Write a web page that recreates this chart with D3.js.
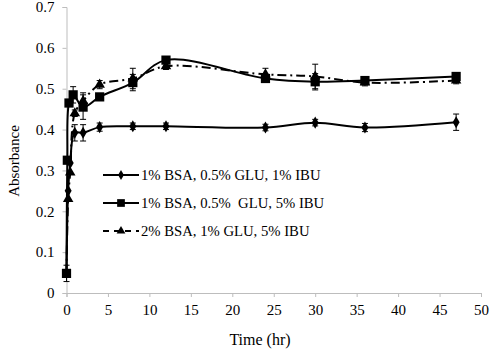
<!DOCTYPE html>
<html><head><meta charset="utf-8">
<script src="https://cdn.jsdelivr.net/npm/d3@7/dist/d3.min.js"></script>
<style>body{margin:0;background:#fff}svg{display:block;font-family:"Liberation Serif","Times New Roman",serif}</style>
</head><body><svg id="c" width="500" height="353"></svg>
<script>
const xTicks = [0,5,10,15,20,25,30,35,40,45,50];
const yTicks = [0,0.1,0.2,0.3,0.4,0.5,0.6,0.7];
const seriesNames = ["1% BSA, 0.5% GLU, 1% IBU","1% BSA, 0.5%  GLU, 5% IBU","2% BSA, 1% GLU, 5% IBU"];
const time1 = [0, 0.2, 0.45, 1, 2, 4, 8, 12, 24, 30, 36, 47];
const vals1 = [0.048, 0.25, 0.318, 0.392, 0.392, 0.406, 0.408, 0.408, 0.405, 0.417, 0.405, 0.418];
const err1  = [0, 0.006, 0.006, 0.02, 0.02, 0.01, 0.008, 0.008, 0.008, 0.008, 0.01, 0.02];
const time2 = [0, 0.1, 0.3, 0.8, 2, 4, 8, 12, 24, 30, 36, 47];
const vals2 = [0.048, 0.325, 0.465, 0.485, 0.455, 0.48, 0.515, 0.57, 0.525, 0.517, 0.52, 0.53];
const err2  = [0.02, 0.006, 0.006, 0.02, 0.03, 0.008, 0.02, 0.008, 0.008, 0.02, 0.008, 0.008];
const time3 = [0, 0.2, 0.45, 1, 2, 4, 8, 12, 24, 30, 36, 47];
const vals3 = [0.048, 0.23, 0.295, 0.44, 0.47, 0.51, 0.525, 0.555, 0.535, 0.53, 0.515, 0.52];
const err3  = [0, 0.006, 0.006, 0.008, 0.02, 0.01, 0.025, 0.008, 0.015, 0.03, 0.008, 0.008];

const svg = d3.select("#c");
const x = d3.scaleLinear().domain([0,50]).range([66.5,481]);
const y = d3.scaleLinear().domain([0,0.7]).range([293,7]);
const axisCol = "#bdbdbd";

const gx = svg.append("g").attr("transform","translate(0,293)")
  .call(d3.axisBottom(x).tickValues(xTicks).tickSize(4).tickPadding(7).tickFormat(d3.format("d")));
const gy = svg.append("g").attr("transform","translate(66.5,0)")
  .call(d3.axisLeft(y).tickValues(yTicks).tickSize(4).tickPadding(8).tickFormat(d=>d===0?"0":d3.format(".1f")(d)));
[gx,gy].forEach(g=>{
  g.attr("font-family","Liberation Serif").attr("font-size",15);
  g.select(".domain").attr("stroke",axisCol);
  g.selectAll(".tick line").attr("stroke",axisCol);
  g.selectAll("text").attr("fill","#000");
});

svg.append("text").attr("x",260).attr("y",345).attr("text-anchor","middle").attr("font-size",16).text("Time (hr)");
svg.append("text").attr("transform","translate(19,161) rotate(-90)").attr("text-anchor","middle").attr("font-size",15).text("Absorbance");

const series = [
  {t:time1,v:vals1,e:err1,sym:d3.symbolDiamond,size:42,dash:null},
  {t:time2,v:vals2,e:err2,sym:d3.symbolSquare,size:85,dash:null},
  {t:time3,v:vals3,e:err3,sym:d3.symbolTriangle,size:48,dash:"9,4,2,4"}
];
const line = d3.line().x(d=>x(d[0])).y(d=>y(d[1])).curve(d3.curveCatmullRom.alpha(0.5));

series.forEach(s=>{
  const pts = s.t.map((t,i)=>[t,s.v[i],s.e[i]]);
  svg.append("path").datum(pts).attr("d",line).attr("fill","none").attr("stroke","#000")
    .attr("stroke-width",2).attr("stroke-dasharray",s.dash);
  const eb = svg.append("g").attr("stroke","#000").attr("stroke-width",1);
  pts.filter(p=>p[2]>0.007).forEach(p=>{
    eb.append("line").attr("x1",x(p[0])).attr("x2",x(p[0])).attr("y1",y(p[1]-p[2])).attr("y2",y(p[1]+p[2]));
    [p[1]-p[2],p[1]+p[2]].forEach(v=>eb.append("line").attr("x1",x(p[0])-3).attr("x2",x(p[0])+3).attr("y1",y(v)).attr("y2",y(v)));
  });
  svg.append("g").selectAll("path").data(s.t.map((t,i)=>[t,s.v[i]]).filter((p,i)=>!(i===0 && s.sym!==d3.symbolSquare)))
    .join("path").attr("d",d3.symbol(s.sym,s.size)).attr("fill","#000")
    .attr("transform",d=>`translate(${x(d[0])},${y(d[1])})`);
});

const legY = [175,203,231];
series.forEach((s,i)=>{
  const g = svg.append("g");
  g.append("line").attr("x1",103).attr("x2",139).attr("y1",legY[i]).attr("y2",legY[i])
    .attr("stroke","#000").attr("stroke-width",2).attr("stroke-dasharray",s.dash?"6,5":null);
  g.append("path").attr("d",d3.symbol(s.sym,s.size*0.7)).attr("fill","#000").attr("transform",`translate(121,${legY[i]})`);
  g.append("text").attr("x",141).attr("y",legY[i]).attr("dy","0.35em").attr("font-size",14.7)
    .style("white-space","pre").text(seriesNames[i]);
});
</script></body></html>
